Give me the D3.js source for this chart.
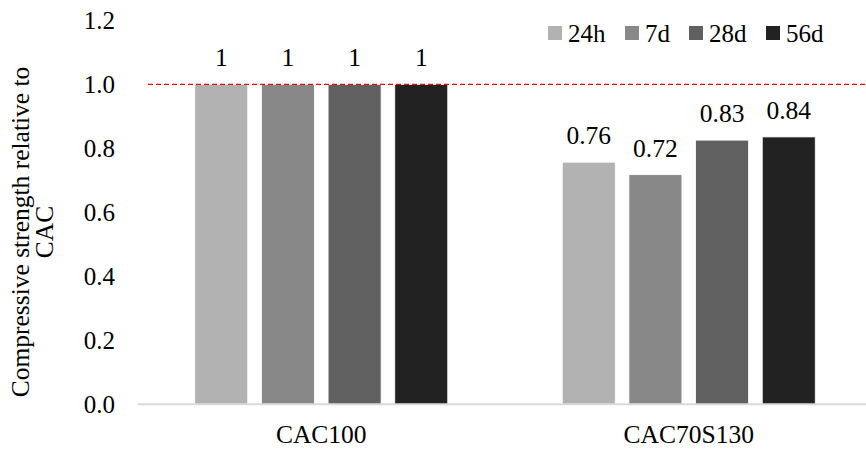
<!DOCTYPE html>
<html>
<head>
<meta charset="utf-8">
<script src="https://cdn.jsdelivr.net/npm/d3@7/dist/d3.min.js"></script>
<style>
  html, body { margin: 0; padding: 0; background: #fff; }
  svg { display: block; font-family: "Liberation Serif", "Times New Roman", serif; }
  svg text, svg tspan { font-family: "Liberation Serif", "Times New Roman", serif !important; }
</style>
</head>
<body>
<svg id="chart" width="866" height="449" font-family="Liberation Serif"></svg>
<script>
const categories = ["CAC100", "CAC70S130"];
const seriesNames = ["24h", "7d", "28d", "56d"];
const values24h = [1, 0.757];
const values7d = [1, 0.718];
const values28d = [1, 0.826];
const values56d = [1, 0.836];
const seriesValues = [values24h, values7d, values28d, values56d];
const yTicks = [0, 0.2, 0.4, 0.6, 0.8, 1.0, 1.2];
const colors = ["#b2b2b2", "#888888", "#606060", "#222222"];
const refValue = 1.0;

const svg = d3.select("#chart");

const y = d3.scaleLinear().domain([0, 1.2]).range([404.3, 20.5]);
const x0 = d3.scaleBand().domain(categories).range([137.5, 872.5]).padding(0);
const x1 = d3.scaleBand().domain(seriesNames).range([-126.5, 126.5]).paddingInner(0.205).paddingOuter(0);

function stext(g, x, yy, str, size, anchor) {
  return g.append("text")
    .attr("x", x).attr("y", yy)
    .attr("text-anchor", anchor)
    .attr("font-family", "Liberation Serif")
    .style("font-size", size + "px")
    .attr("fill", "#000")
    .text(str);
}

// Y axis
const yAxis = svg.append("g").attr("transform", "translate(137.5,0)")
  .call(d3.axisLeft(y).tickValues(yTicks).tickSize(0).tickFormat(d3.format(".1f")));
yAxis.attr("font-family", "Liberation Serif");
yAxis.select(".domain").remove();
yAxis.selectAll(".tick text")
  .attr("x", -22.5).attr("dy", null).attr("y", 8)
  .attr("text-anchor", "end")
  .attr("font-family", "Liberation Serif")
  .style("font-size", "25px")
  .attr("fill", "#000");

// Bars
const groups = svg.append("g").selectAll("g").data(categories).join("g")
  .attr("transform", d => `translate(${x0(d) + x0.bandwidth() / 2},0)`);

categories.forEach((cat, ci) => {
  const g = groups.filter(d => d === cat);
  seriesNames.forEach((s, si) => {
    const v = seriesValues[si][ci];
    g.append("rect")
      .attr("x", x1(s))
      .attr("y", y(v))
      .attr("width", x1.bandwidth())
      .attr("height", y(0) - y(v))
      .attr("fill", colors[si])
      .attr("stroke", "#ffffff")
      .attr("stroke-width", 0.8);
    const label = String(Math.round(v * 100) / 100);
    stext(g, x1(s) + x1.bandwidth() / 2, y(v) - 18, label, 25.5, "middle");
  });
});

// X axis line
svg.append("line")
  .attr("x1", 137.5).attr("x2", 866)
  .attr("y1", y(0)).attr("y2", y(0))
  .attr("stroke", "#d9d9d9").attr("stroke-width", 2);

// Reference dashed line
svg.append("line")
  .attr("x1", 148).attr("x2", 866)
  .attr("y1", y(refValue)).attr("y2", y(refValue))
  .attr("stroke", "#ff0000").attr("stroke-width", 1.3)
  .attr("stroke-dasharray", "5,3");

// Category labels
categories.forEach(c => {
  stext(svg, x0(c) + x0.bandwidth() / 2, 442.7, c, 25.5, "middle");
});

// Y-axis title
const yt = svg.append("text")
  .attr("transform", "translate(0,232) rotate(-90)")
  .attr("text-anchor", "middle")
  .attr("font-family", "Liberation Serif")
  .style("font-size", "25.5px")
  .attr("fill", "#000");
yt.append("tspan").attr("x", 0).attr("y", 29).text("Compressive strength relative to");
yt.append("tspan").attr("x", 0).attr("y", 53).text("CAC");

// Legend
const legendX = [548, 625, 689, 766];
seriesNames.forEach((s, i) => {
  svg.append("rect")
    .attr("x", legendX[i]).attr("y", 26)
    .attr("width", 14).attr("height", 14)
    .attr("fill", colors[i]);
  stext(svg, legendX[i] + 20, 41.5, s, 25, "start");
});
</script>
</body>
</html>
